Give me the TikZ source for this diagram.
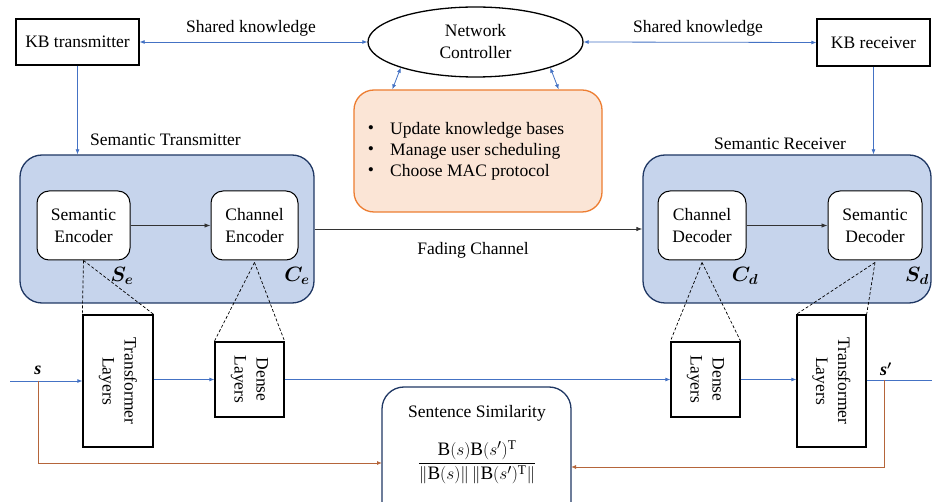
\documentclass[tikz,border=0pt]{standalone}
\usepackage{amsmath,bm}
\usepackage{fontspec}
\setmainfont{Liberation Serif}
\usetikzlibrary{arrows.meta,shapes.geometric}
\definecolor{lblue}{HTML}{4472C4}
\definecolor{boxblue}{HTML}{C6D4EC}
\definecolor{navy}{HTML}{203864}
\definecolor{ofill}{HTML}{FBE5D6}
\definecolor{oline}{HTML}{ED7D31}
\definecolor{brn}{HTML}{B5653A}
\tikzset{
  every node/.style={font=\fontsize{17.5}{22}\selectfont, inner sep=0pt},
  kbbox/.style={draw=black, line width=1.3pt, minimum width=#1},
  bigbox/.style={draw=navy, fill=boxblue, line width=1.3pt, rounded corners=22pt},
  innerbox/.style={draw=black, fill=white, line width=1pt, rounded corners=12pt, align=center, minimum width=#1, minimum height=69pt},
  layerbox/.style={draw=black, fill=white, line width=1.3pt},
  barrow/.style={draw=lblue, line width=0.8pt, -{Latex[length=5pt,width=4pt]}},
  bdarrow/.style={draw=lblue, line width=0.8pt, {Latex[length=5pt,width=4pt]}-{Latex[length=5pt,width=4pt]}},
  karrow/.style={draw=black!80, line width=0.9pt, -{Latex[length=6pt,width=4.5pt]}},
  brarrow/.style={draw=brn, line width=0.9pt, -{Latex[length=5pt,width=4pt]}},
  dsh/.style={draw=black, line width=0.7pt, dash pattern=on 3pt off 2pt},
  lbl/.style={font=\fontsize{17.5}{22}\selectfont},
  mlbl/.style={font=\fontsize{20}{22}\selectfont},
}
\begin{document}
\begin{tikzpicture}[x=1pt,y=-1pt]
\useasboundingbox (0,0) rectangle (932,502);
\clip (0,0) rectangle (932,502);
\fill[white] (0,0) rectangle (932,502);

% top row
\node[kbbox=123pt, minimum height=46pt] (KBt) at (77.5,42) {KB transmitter};
\node[draw=black, line width=1.3pt, ellipse, minimum width=215pt, minimum height=70pt, align=center] (NC) at (475.5,42) {Network\\Controller};
\node[kbbox=113pt, minimum height=47pt] (KBr) at (873.5,42.5) {KB receiver};
\node[lbl] (shl) at (251,28) {Shared knowledge};
\node[lbl] (shr) at (698,28) {Shared knowledge};
\draw[bdarrow] (KBt.east) -- (NC.west);
\draw[bdarrow] (NC.east) -- (KBr.west);

% orange box
\node[draw=oline, fill=ofill, line width=1.3pt, rounded corners=20pt, minimum width=248pt, minimum height=122pt] (OB) at (478,151) {};
\node (b1) at (371,130) {•};
\node (b2) at (371,151) {•};
\node (b3) at (371,172) {•};
\node[anchor=west] (t1) at (390,130) {Update knowledge bases};
\node[anchor=west] (t2) at (390,151) {Manage user scheduling};
\node[anchor=west] (t3) at (390,172) {Choose MAC protocol};
\draw[bdarrow] (NC.199) -- ([xshift=39pt]OB.north west);
\draw[bdarrow] (NC.341) -- ([xshift=-44pt]OB.north east);

% transmitter / receiver
\node[bigbox, minimum width=294pt, minimum height=148pt] (ST) at (167,229) {};
\node[bigbox, minimum width=288pt, minimum height=148pt] (SR) at (787,229) {};
\node[lbl] (STl) at (165.5,140) {Semantic Transmitter};
\node[lbl] (SRl) at (780,144) {Semantic Receiver};
\draw[barrow] (KBt.south) -- (KBt.south |- ST.north);
\draw[barrow] (KBr.south) -- (KBr.south |- SR.north);

\node[innerbox=93pt] (SE) at (83.5,225.5) {Semantic\\Encoder};
\node[innerbox=87pt] (CE) at (254.5,225.5) {Channel\\Encoder};
\node[innerbox=88pt] (CD) at (702,225.5) {Channel\\Decoder};
\node[innerbox=94pt] (SD) at (875,225.5) {Semantic\\Decoder};
\draw[karrow] (SE.east) -- (CE.west);
\draw[karrow] (CD.east) -- (SD.west);
\draw[karrow] (ST.east) -- (SR.west);
\node[lbl] (fc) at (473,250) {Fading Channel};

\node[mlbl] (Se) at (122,276) {$\bm{S_e}$};
\node[mlbl] (Ce) at (297,276) {$\bm{C_e}$};
\node[mlbl] (Cd) at (745,276) {$\bm{C_d}$};
\node[mlbl] (Sd) at (917,276) {$\bm{S_d}$};

% layers
\node[layerbox, minimum width=70pt, minimum height=132pt] (TLl) at (118,381) {};
\node[rotate=-90, align=center] (TLlt) at (TLl) {Transformer\\Layers};
\node[layerbox, minimum width=69pt, minimum height=75pt] (DLl) at (249.5,379.5) {};
\node[rotate=-90, align=center] (DLlt) at (DLl) {Dense\\Layers};
\node[layerbox, minimum width=69pt, minimum height=75pt] (DLr) at (705.5,379.5) {};
\node[rotate=-90, align=center] (DLrt) at (DLr) {Dense\\Layers};
\node[layerbox, minimum width=69pt, minimum height=132pt] (TLr) at (831.5,381) {};
\node[rotate=-90, align=center] (TLrt) at (TLr) {Transformer\\Layers};

% dashed zoom lines
\draw[dsh] (SE.south) -- (TLl.north west);
\draw[dsh] (SE.south) -- (TLl.north east);
\draw[dsh] ([yshift=-2pt]CE.south) -- (DLl.north west);
\draw[dsh] ([yshift=-2pt]CE.south) -- (DLl.north east);
\draw[dsh] ([yshift=-2pt]CD.south) -- (DLr.north west);
\draw[dsh] ([yshift=-2pt]CD.south) -- (DLr.north east);
\draw[dsh] ([yshift=-2pt]SD.south) -- (TLr.north west);
\draw[dsh] ([yshift=-2pt]SD.south) -- (TLr.north east);

% signal line
\coordinate (sin) at (10,381);
\coordinate (bl) at (38,381);
\coordinate (sout) at (932,380);
\coordinate (br) at (884,380);
\draw[barrow] (sin) -- (TLl.west);
\draw[barrow] (TLl.east |- DLl.west) -- (DLl.west);
\draw[barrow] (DLl.east) -- (DLr.west);
\draw[barrow] (DLr.east) -- (DLr.east -| TLr.west);
\draw[draw=lblue, line width=0.8pt] (TLr.east |- sout) -- (sout);
\node[font=\fontsize{18}{20}\selectfont] (sl) at (38,370) {\textbf{\textit{s}}};
\node[font=\fontsize{18}{20}\selectfont] (sr) at (886,369) {\textbf{\textit{s}}$^{\bm\prime}$};

% sentence similarity
\node[draw=navy, fill=white, line width=1.3pt, rounded corners=22pt, minimum width=189pt, minimum height=143pt] (SS) at (476.5,458.5) {};
\node (SSt) at (477,413) {Sentence Similarity};
\node[font=\fontsize{19}{22}\selectfont] (SSf) at (477,462) {$\dfrac{\mathrm{B}(s)\mathrm{B}(s')^{\mathrm{T}}}{\lVert\mathrm{B}(s)\rVert\left\lVert\mathrm{B}(s')^{\mathrm{T}}\right\rVert}$};
\coordinate (ssl) at (382,463);
\coordinate (ssr) at (571,467);
\draw[brarrow] (bl) |- (ssl);
\draw[brarrow] (br) |- (ssr);
\end{tikzpicture}
\end{document}
